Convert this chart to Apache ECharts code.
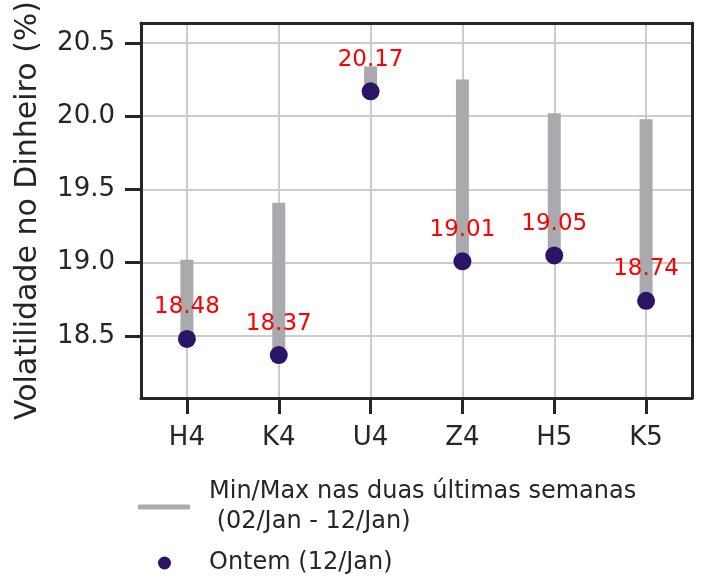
<!DOCTYPE html>
<html>
<head>
<meta charset="utf-8">
<script src="https://cdn.jsdelivr.net/npm/echarts@6/dist/echarts.min.js"></script>
<style>
  html, body { margin: 0; padding: 0; background: #ffffff; }
  #chart { width: 701px; height: 585px; }
</style>
</head>
<body>
<div id="chart"></div>
<script>
// Contract maturities
const categories = ['H4', 'K4', 'U4', 'Z4', 'H5', 'K5'];
// ATM volatility yesterday (12/Jan), %
const ontem = [18.48, 18.37, 20.17, 19.01, 19.05, 18.74];
// Two-week range (02/Jan - 12/Jan), %
const minimo = [18.48, 18.37, 20.17, 19.01, 19.05, 18.74];
const maximo = [19.02, 19.41, 20.34, 20.25, 20.02, 19.98];
// Y tick labels
const yTicks = [18.5, 19.0, 19.5, 20.0, 20.5];

const FONT = 'DejaVu Sans';
const DARK = '#262626';
const GRAY = '#a9aaae';
const DOT = '#2b1466';
const Y_MIN = 18.077;
const Y_MAX = 20.636;

const rangeData = categories.map((c, i) => [c, minimo[i], maximo[i]]);
const dotData = categories.map((c, i) => [c, ontem[i]]);

const chart = echarts.init(document.getElementById('chart'), null, { renderer: 'canvas' });

const frame = { color: DARK, width: 3 };
const gridLine = { color: '#cccccc', width: 2 };

chart.setOption({
  animation: false,
  textStyle: { fontFamily: FONT },
  grid: {
    left: 141, right: 9, top: 23, bottom: 187,
    outerBoundsMode: 'none'
  },
  xAxis: [
    {
      // category axis: bottom frame edge and labels
      type: 'category',
      data: categories,
      position: 'bottom',
      axisLine: { show: true, onZeroAxisIndex: 0, lineStyle: frame },
      axisTick: { show: false },
      axisLabel: { margin: 27, fontFamily: FONT, fontSize: 26, color: DARK },
      splitLine: { show: false }
    },
    {
      // top frame edge, also carrying vertical grid lines through band centres
      type: 'value',
      min: -0.5, max: 5.5, splitNumber: 6,
      position: 'top',
      axisLine: { show: true, onZeroAxisIndex: 1, lineStyle: frame },
      axisTick: { show: false },
      axisLabel: { show: false },
      splitLine: { show: true, lineStyle: gridLine }
    },
    {
      // tick marks at band centres
      type: 'category',
      data: categories,
      position: 'bottom',
      axisLine: { show: false },
      axisTick: { show: true, alignWithLabel: true, length: 16, lineStyle: frame },
      axisLabel: { show: false },
      splitLine: { show: false }
    }
  ],
  yAxis: [
    {
      type: 'value',
      min: Y_MIN, max: Y_MAX, splitNumber: 5,
      position: 'left',
      name: 'Volatilidade no Dinheiro (%)',
      nameLocation: 'middle', nameGap: 98,
      nameTextStyle: { fontFamily: FONT, fontSize: 30, color: DARK },
      axisLine: { show: true, onZeroAxisIndex: 0, lineStyle: frame },
      axisTick: { show: false },
      axisLabel: {
        customValues: yTicks, margin: 26,
        fontFamily: FONT, fontSize: 26, color: DARK,
        formatter: v => v.toFixed(1)
      },
      splitLine: { show: true, lineStyle: gridLine }
    },
    {
      // right frame edge
      type: 'value',
      min: Y_MIN, max: Y_MAX,
      position: 'right',
      axisLine: { show: true, onZeroAxisIndex: 0, lineStyle: frame },
      axisTick: { show: false },
      axisLabel: { show: false },
      splitLine: { show: false }
    },
    {
      // tick marks at the labelled values
      type: 'value',
      min: Y_MIN, max: Y_MAX,
      position: 'left',
      axisLine: { show: false, onZeroAxisIndex: 0 },
      axisTick: { show: true, length: 16, customValues: yTicks, lineStyle: frame },
      axisLabel: { show: false },
      splitLine: { show: false }
    }
  ],
  legend: [
    {
      left: 138, top: 477, padding: 0, orient: 'vertical',
      itemWidth: 52, itemHeight: 5,
      selectedMode: false,
      data: [{ name: 'Min/Max nas duas últimas semanas\n (02/Jan - 12/Jan)', icon: 'roundRect' }],
      textStyle: { fontFamily: FONT, fontSize: 24, color: DARK, lineHeight: 30, padding: [0, 0, 0, 14] }
    },
    {
      left: 158, top: 548, padding: 0, orient: 'vertical',
      itemWidth: 13, itemHeight: 13,
      selectedMode: false,
      data: [{ name: 'Ontem (12/Jan)', icon: 'circle' }],
      textStyle: { fontFamily: FONT, fontSize: 24, color: DARK, lineHeight: 30, padding: [0, 0, 0, 33] }
    }
  ],
  series: [
    {
      name: 'Min/Max nas duas últimas semanas\n (02/Jan - 12/Jan)',
      type: 'custom',
      xAxisIndex: 0, yAxisIndex: 0,
      itemStyle: { color: GRAY },
      data: rangeData,
      encode: { x: 0, y: [1, 2] },
      renderItem: function (params, api) {
        const x = api.value(0);
        const lo = api.coord([x, api.value(1)]);
        const hi = api.coord([x, api.value(2)]);
        const w = 13;
        return {
          type: 'rect',
          shape: { x: lo[0] - w / 2, y: hi[1], width: w, height: lo[1] - hi[1] },
          style: { fill: GRAY }
        };
      },
      z: 2
    },
    {
      name: 'Ontem (12/Jan)',
      type: 'scatter',
      xAxisIndex: 0, yAxisIndex: 0,
      data: dotData,
      symbol: 'circle',
      symbolSize: 18,
      itemStyle: { color: DOT, opacity: 1 },
      label: {
        show: true, position: 'top', distance: 11,
        fontFamily: FONT, fontSize: 23, color: '#ff0000',
        formatter: p => p.value[1].toFixed(2)
      },
      z: 3
    }
  ]
});
</script>
</body>
</html>
